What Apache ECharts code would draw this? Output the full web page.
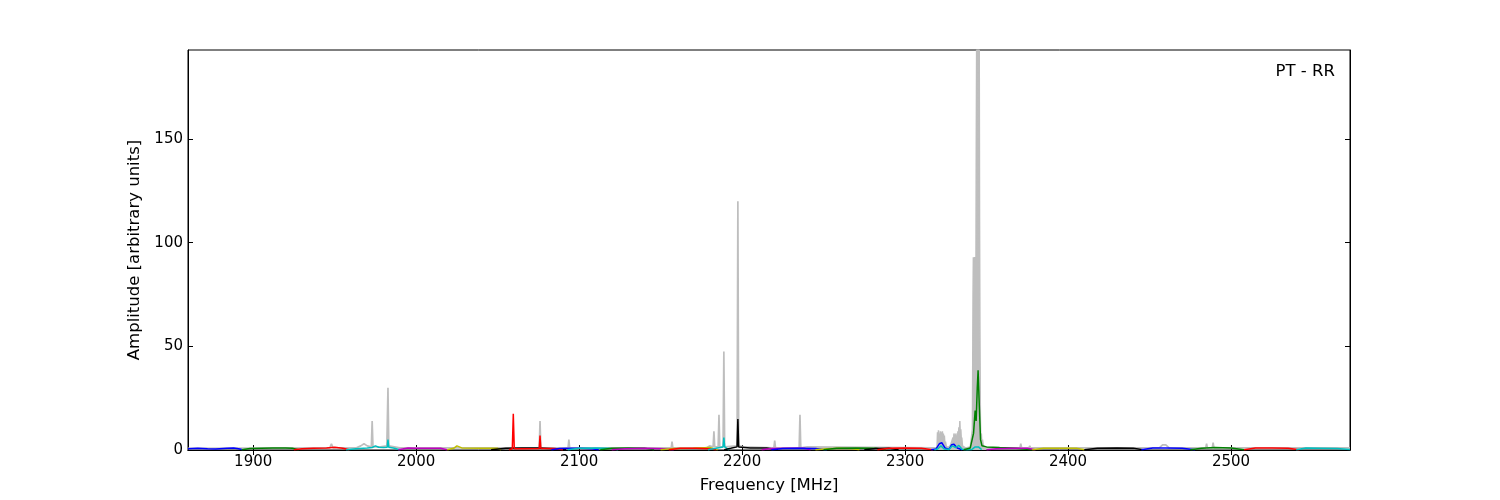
<!DOCTYPE html>
<html>
<head>
<meta charset="utf-8">
<script src="https://cdn.jsdelivr.net/npm/echarts@6/dist/echarts.min.js"></script>
<style>
html,body{margin:0;padding:0;background:#fff;}
#chart{width:1500px;height:500px;}
</style>
</head>
<body>
<div id="chart"></div>
<script>
// ---- data (frequency MHz, amplitude) ----
const xTicks = [1900, 2000, 2100, 2200, 2300, 2400, 2500];
const yTicks = [0, 50, 100, 150];
const xRange = [1860, 2573];
const yRange = [0, 193];

// grey raw spectrum, outside the strong-RFI region
const grey = [[1860,0.8],[1945,1],[1947,1],[1948,3],[1949,1],[1963,1],[1966,2],[1968,3],[1970,2],[1972.5,1.5],[1973,14],[1973.5,1.5],[1978,1.5],[1982,2],[1982.7,30],[1983.2,2],[1990,1],[2075.5,1],[2076,14],[2076.5,1],[2093.2,1],[2093.7,5],[2094.2,1],[2156.5,1],[2157,4],[2157.5,1],[2178,1],[2180,2],[2182.2,1.5],[2182.7,9],[2183.2,1.5],[2185.3,1.5],[2185.8,17],[2186.3,1.5],[2188.3,1.5],[2188.8,47.5],[2189.3,1.5],[2196.9,2],[2197.4,120],[2197.9,2],[2201,1.5],[2219.5,1],[2220,4.5],[2220.5,1],[2235,1],[2235.5,17],[2236,1],[2240,1.5],[2318,1],
  [2350,1],[2370.5,1],[2371,3],[2371.5,1],[2376,1],[2376.5,2],[2377,1],[2456,1],[2458,2.5],[2460,2.5],[2462,1],[2484.5,1],[2485,3],[2485.5,1],[2488.5,1],[2489,3.5],[2489.5,1],[2573,1]];

// grey raw spectrum, strong-RFI region 2318-2350 MHz (dense)
const greyPeak = [[2318,1],[2319.6,1],[2319.9,8.5],[2320.2,4],[2320.5,9.5],[2320.8,5],[2321.1,8],[2321.4,4],[2321.7,9],[2322.0,5],[2322.3,8.5],[2322.6,4],[2322.9,9],[2323.2,5],[2323.5,8],[2323.8,4],[2324.1,7],[2324.4,3],[2324.8,4],[2325.3,1.5],[2326,2],[2327,1.5],[2328,2.5],[2329,2],[2329.4,6],[2329.7,4],[2330.0,8],[2330.3,5],[2330.6,7.5],[2330.9,4],[2331.2,8],[2331.5,5],[2331.8,7],[2332.1,4],[2332.4,9],[2332.7,6],[2333.0,11],[2333.3,7],[2333.6,14],[2333.9,7],[2334.2,10],[2334.5,5],[2334.8,6],[2335.2,2],[2336,1.5],[2337,1],
  [2340,1.5],[2341,2],[2341.3,10],[2341.5,40],[2341.7,75],[2341.9,93],[2342.3,92],[2342.7,93],[2343.1,92],[2343.5,93],[2343.7,150],[2343.9,193],[2345.5,193],[2345.7,110],[2345.9,60],[2346.2,15],[2346.5,4],[2346.8,8],[2347.1,3],[2347.5,5],[2348,2],[2350,1]];

const band01 = [[1860,0.6],[1866,0.9],[1872,0.6],[1877,0.5],[1884,0.9],[1888,1.0],[1891,0.6],[1893,0.2]];
const band02 = [[1893,0.1],[1898,0.7],[1905,0.9],[1912,1.0],[1920,1.0],[1924,0.8],[1928,0.1]];
const band03 = [[1925,0.1],[1930,0.6],[1937,0.9],[1945,1.0],[1950,1.3],[1955,0.8],[1959,0.1]];
const band04 = [[1957,0.1],[1963,0.6],[1970,1.0],[1973,1.2],[1975,2.0],[1977,1.3],[1980,1.2],[1982.2,1.3],[1982.7,5.0],[1983.2,1.3],[1986,1.0],[1990,0.1]];
const band05 = [[1989,0.1],[1995,1.0],[2000,0.9],[2008,0.8],[2015,0.8],[2019,0.1]];
const band06 = [[2019,0.1],[2023,0.8],[2025,2.0],[2028,1.0],[2040,0.9],[2050,0.8],[2052,0.1]];
const band07 = [[2046,0.1],[2055,0.8],[2065,1.0],[2075,1.0],[2085,0.6],[2092,0.1]];
const band08 = [[2057,0.1],[2059,0.6],[2059.6,17.5],[2060.2,0.6],[2066,0.6],[2075.5,0.7],[2076,7.0],[2076.5,0.7],[2085,0.7],[2090,0.1]];
const band09 = [[2083,0.1],[2088,0.7],[2095,0.9],[2100,0.9],[2108,0.6],[2112,0.1]];
const band10 = [[2093,0.1],[2100,0.8],[2110,1.0],[2118,0.9],[2124,0.1]];
const band11 = [[2113,0.1],[2120,0.8],[2130,1.0],[2140,0.9],[2146,0.1]];
const band12 = [[2120,0.1],[2128,0.6],[2140,0.8],[2152,0.6],[2158,0.1]];
const band13 = [[2150,0.1],[2158,0.7],[2170,0.9],[2180,1.2],[2185,0.1]];
const band14 = [[2155,0.1],[2162,0.8],[2172,0.9],[2180,0.6],[2184,0.1]];
const band15 = [[2179,0.1],[2184,0.8],[2188.3,1.5],[2188.8,6.0],[2189.3,1.5],[2192,0.1]];
const band16 = [[2189,0.1],[2193,0.8],[2196.9,1.5],[2197.4,15.0],[2197.9,1.5],[2205,1.0],[2215,1.0],[2222,0.1]];
const band17 = [[2212,0.1],[2218,0.7],[2228,0.9],[2238,0.8],[2242,0.1]];
const band18 = [[2218,0.1],[2225,0.7],[2235,0.9],[2235.5,1.5],[2236,0.9],[2245,0.7],[2252,0.1]];
const band19 = [[2245,0.1],[2252,0.6],[2260,0.8],[2268,0.6],[2272,0.1]];
const band20 = [[2250,0.1],[2258,0.9],[2270,1.0],[2282,0.9],[2288,0.1]];
const band21 = [[2275,0.1],[2282,0.7],[2290,0.8],[2296,0.1]];
const band22 = [[2283,0.1],[2290,0.8],[2300,1.0],[2310,0.8],[2317,0.1]];
const band23 = [[2316,0.1],[2319,0.5],[2321,3.0],[2322.5,3.5],[2324.5,1.0],[2327,0.3],[2328.5,2.5],[2330,2.8],[2332,1.0],[2335,0.1]];
const band24 = [[2318,0.1],[2320,0.5],[2322,2.0],[2324,0.5],[2327,0.3],[2329,2.0],[2331,1.2],[2333,2.2],[2335,0.4],[2338,0.1],[2341,0.3],[2343,1.5],[2345,1.5],[2347,0.2]];
const band25 = [[2336,0.1],[2340,1.0],[2342,8],[2343,19],[2343.6,14],[2344.3,30],[2344.8,38.5],[2345.6,20],[2346.3,5],[2347.2,2],[2350,1.5],[2358,1.2],[2368,0.9],[2378,0.1]];
const band26 = [[2350,0.1],[2356,0.6],[2365,0.8],[2375,0.8],[2380,0.1]];
const band27 = [[2378,0.1],[2385,0.8],[2395,0.9],[2405,0.9],[2410,0.1]];
const band28 = [[2410,0.1],[2418,0.9],[2430,1.0],[2440,0.9],[2446,0.1]];
const band29 = [[2445,0.1],[2452,1.0],[2460,1.0],[2470,0.9],[2478,0.1]];
const band30 = [[2475,0.1],[2482,0.9],[2490,1.2],[2500,1.0],[2508,0.1]];
const band31 = [[2508,0.1],[2515,1.0],[2525,1.0],[2535,0.8],[2542,0.1]];
const band32 = [[2540,0.1],[2546,1.0],[2555,0.9],[2565,0.7],[2573,0.3]];

const bands = [band01,band02,band03,band04,band05,band06,band07,band08,band09,band10,band11,band12,band13,band14,band15,band16,band17,band18,band19,band20,band21,band22,band23,band24,band25,band26,band27,band28,band29,band30,band31,band32];
const bandColorKeys = ['b','g','r','c','m','y','k','r','b','c','g','m','y','r','c','k','m','b','y','g','k','r','b','c','g','m','y','k','b','g','r','c'];

// ---- styles ----
const palette = {b:'#0000ff', g:'#008000', r:'#ff0000', c:'#00bfbf', m:'#bf00bf', y:'#bfbf00', k:'#000000'};
const greyColor = '#bebebe';
const font = 'DejaVu Sans';

const series = [{
  type:'line', data: grey, showSymbol:false, symbol:'none',
  lineStyle:{color:greyColor, width:1.7}, z:1, xAxisIndex:0, yAxisIndex:0
},{
  type:'line', data: greyPeak, showSymbol:false, symbol:'none',
  lineStyle:{color:greyColor, width:1.5}, areaStyle:{color:greyColor, opacity:1},
  z:1, xAxisIndex:0, yAxisIndex:0
}];
bands.forEach((b,i)=>{
  series.push({type:'line', data:b, symbol:'none', showSymbol:false,
    lineStyle:{color:palette[bandColorKeys[i]], width:1.5}, z:2+i, xAxisIndex:0, yAxisIndex:0});
});

const tickStyle = {show:true, inside:true, length:5, lineStyle:{color:'#000', width:1}};
const chart = echarts.init(document.getElementById('chart'), null, {renderer:'canvas'});
chart.setOption({
  animation:false,
  backgroundColor:'#fff',
  grid:{left:188, right:150, top:50, bottom:50, show:true, borderColor:'#000', borderWidth:1, containLabel:false, outerBoundsMode:'none'},
  xAxis:[{
    type:'value', min:xRange[0], max:xRange[1], position:'bottom',
    name:'Frequency [MHz]', nameLocation:'middle', nameGap:27,
    nameTextStyle:{fontFamily:font, fontSize:16.5, color:'#000'},
    axisLine:{show:true, lineStyle:{color:'#000', width:1}},
    axisTick:Object.assign({customValues:xTicks}, tickStyle),
    axisLabel:{customValues:xTicks, formatter:(v)=>String(v), fontFamily:font, fontSize:15, color:'#000', margin:5},
    splitLine:{show:false}
  },{
    type:'value', min:xRange[0], max:xRange[1], position:'top',
    axisLine:{show:true, lineStyle:{color:'#000', width:1}},
    axisTick:Object.assign({customValues:xTicks}, tickStyle),
    axisLabel:{show:false}, splitLine:{show:false}
  }],
  yAxis:[{
    type:'value', min:yRange[0], max:yRange[1], position:'left',
    name:'Amplitude [arbitrary units]', nameLocation:'middle', nameGap:40, nameRotate:90,
    nameTextStyle:{fontFamily:font, fontSize:16.5, color:'#000'},
    axisLine:{show:true, lineStyle:{color:'#000', width:1}},
    axisTick:Object.assign({customValues:yTicks}, tickStyle),
    axisLabel:{customValues:yTicks, formatter:(v)=>String(v), fontFamily:font, fontSize:15, color:'#000', margin:5},
    splitLine:{show:false}
  },{
    type:'value', min:yRange[0], max:yRange[1], position:'right',
    axisLine:{show:true, lineStyle:{color:'#000', width:1}},
    axisTick:Object.assign({customValues:yTicks}, tickStyle),
    axisLabel:{show:false}, splitLine:{show:false}
  }],
  graphic:[{type:'text', right:165, top:63, style:{text:'PT - RR', font:'16.5px DejaVu Sans', fill:'#000'}}],
  series: series
});
</script>
</body>
</html>
